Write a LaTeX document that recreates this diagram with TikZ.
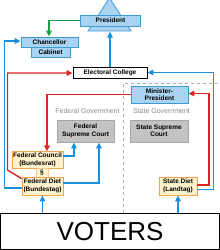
\documentclass[tikz,border=0pt]{standalone}
\usepackage{fontspec}
\setmainfont{Liberation Sans}
\usetikzlibrary{arrows.meta}
\definecolor{lblue}{HTML}{A9D3F1}
\definecolor{bblue}{HTML}{3F9BD8}
\definecolor{lgray}{HTML}{C3C3C3}
\definecolor{bgray}{HTML}{A6A6A6}
\definecolor{lyel}{HTML}{FFF2CC}
\definecolor{borg}{HTML}{F2A24E}
\definecolor{cblue}{HTML}{1A8FDC}
\definecolor{cred}{HTML}{E02424}
\definecolor{cgreen}{HTML}{1FA043}
\definecolor{tgray}{HTML}{8A8A8A}
\begin{document}
\begin{tikzpicture}[x=1pt,y=-1pt,
  box/.style={draw,line width=0.8pt,inner sep=0pt,align=center,font=\fontsize{6.5}{7.5}\selectfont\bfseries},
  bluebox/.style={box,fill=lblue,draw=bblue},
  graybox/.style={box,fill=lgray,draw=bgray},
  yelbox/.style={box,fill=lyel,draw=borg},
  whitebox/.style={box,fill=white,draw=black},
  arr/.style={line width=1.4pt,-{Triangle[length=6pt,width=5.5pt]}},
  bl/.style={arr,cblue},
  rd/.style={arr,cred},
  gr/.style={arr,cgreen},
  govlabel/.style={font=\fontsize{7}{8}\selectfont,text=tgray,inner sep=0pt}
]
\useasboundingbox (0,0) rectangle (220,250);
% dashed state frame
\draw[tgray!70,dashed,line width=0.7pt] (123,213) -- (123,83) -- (221,83);
% president triangle
\draw[fill=lblue,draw=bblue,line width=0.8pt] (88,31) -- (109.5,-2) -- (131,31) -- cycle;
\coordinate (tribase) at (110,31.5);
\node[bluebox,minimum width=60pt,minimum height=11pt] (pres) at (110.5,20.5) {President};
\node[bluebox,minimum width=39pt,minimum height=10pt] (cab) at (50.5,52) {Cabinet};
\node[bluebox,minimum width=57pt,minimum height=10pt] (chan) at (49.5,42) {Chancellor};
\node[whitebox,minimum width=74pt,minimum height=11pt] (ec) at (110,72.5) {Electoral College};
\node[bluebox,minimum width=57pt,minimum height=17pt] (mp) at (159.5,94.5) {Minister-\\President};
\node[govlabel] (fg) at (87.5,111) {Federal Government};
\node[govlabel] (sg) at (161.5,111) {State Government};
\node[graybox,minimum width=57pt,minimum height=22pt] (fsc) at (85.5,131) {Federal\\Supreme Court};
\node[graybox,minimum width=58pt,minimum height=22pt] (ssc) at (159,131) {State Supreme\\Court};
\node[yelbox,minimum width=51pt,minimum height=16.5pt] (fc) at (37.5,160) {Federal Council\\(Bundesrat)};
\node[yelbox,draw=borg!60,minimum width=12pt,minimum height=9pt] (para) at (42,172.5) {§};
\node[yelbox,minimum width=41pt,minimum height=18pt] (fd) at (42.5,186) {Federal Diet\\(Bundestag)};
\node[yelbox,minimum width=38pt,minimum height=18pt] (sd) at (178,186) {State Diet\\(Landtag)};
\node[whitebox,line width=1pt,minimum width=219pt,minimum height=36pt,font=\fontsize{26}{28}\selectfont] (vot) at (110,231.5) {VOTERS};
% connectors
\draw[gr] (pres.west) -- (49,20.5) -- (chan.north -| 49,0);
\draw[bl] (ec.north -| tribase) -- (tribase);
\draw[bl] (fd.west |- 0,188) -- (4.5,188) -- (4.5,41) -- (chan.west |- 0,41);
\draw[rd] (fd.north west) ++(0,2) -- (7.5,170) -- (7.5,73) -- (ec.west |- 0,73);
\draw[rd] (mp.west) -- (47,94.5) -- (fc.north -| 47,0);
\draw[bl] (fc.east |- 0,156) -- (74,156) -- (fsc.south -| 74,0);
\draw[bl] (fd.east |- 0,183) -- (99,183) -- (fsc.south -| 99,0);
\draw[rd] (sd.east |- 0,185) -- (209,185) -- (209,93.5) -- (mp.east |- 0,93.5);
\draw[bl] (sd.east |- 0,189.5) -- (213.5,189.5) -- (213.5,72.5) -- (ec.east |- 0,72.5);
\draw[bl] (vot.north -| fd.south) -- (fd.south);
\draw[bl] (vot.north -| sd.south) -- (sd.south);
\end{tikzpicture}
\end{document}
